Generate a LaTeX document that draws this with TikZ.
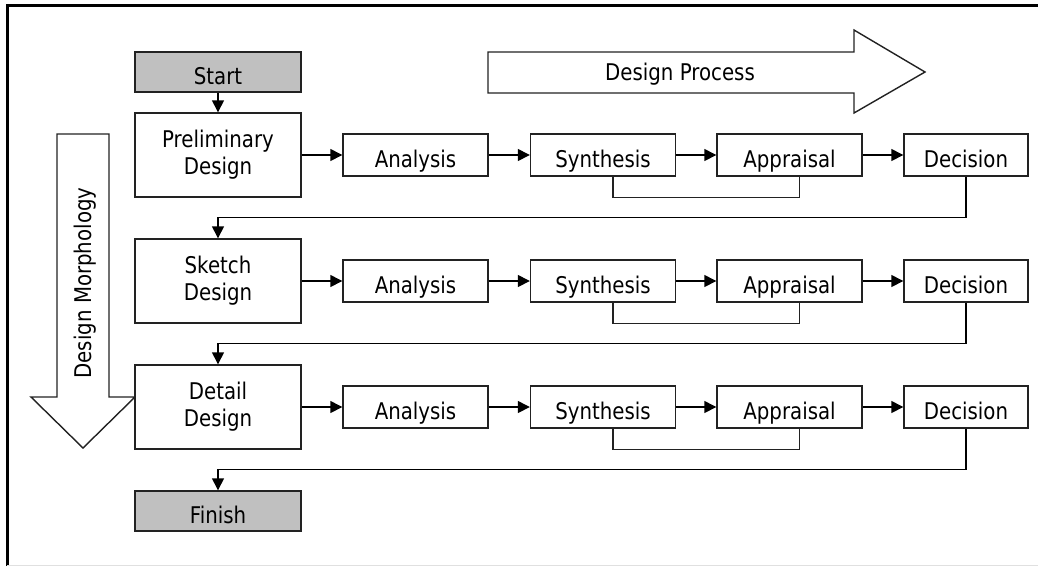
\documentclass[tikz,border=0pt]{standalone}
\usepackage{fontspec}
\setmainfont{DejaVu Sans}[FakeStretch=0.86]
\usetikzlibrary{arrows.meta}
\definecolor{boxgray}{HTML}{C0C0C0}
\definecolor{linec}{HTML}{222222}
\tikzset{
  box/.style={draw=linec, line width=1.4pt, fill=white, inner sep=0pt, align=center,
    font=\fontsize{23}{27}\selectfont, text=black},
  oneline/.style={text height=24pt, text depth=0pt},
  bigbox/.style={box, minimum width=166pt, minimum height=84pt},
  termbox/.style={box, oneline, fill=boxgray, minimum width=166pt, minimum height=40pt},
  stepbox/.style={box, oneline, minimum width=145pt, minimum height=42pt},
  decbox/.style={box, oneline, minimum width=124pt, minimum height=42pt},
  flow/.style={draw=black, line width=1.4pt, -{Triangle[length=12pt,width=12pt]}},
  loopline/.style={draw=linec, line width=1.4pt},
  fat/.style={draw=linec, line width=1.4pt, fill=white, line join=miter},
  lbl/.style={font=\fontsize{23}{26}\selectfont, inner sep=0pt}
}
\begin{document}
\begin{tikzpicture}[x=1pt, y=-1pt]
\useasboundingbox (0,0) rectangle (1038,566);
% frame
\draw[line width=3pt, black] (7,566) -- (7,5) -- (1038,5);
\draw[line width=1pt, black!12] (7,565) -- (1038,565);

% big arrows
\draw[fat] (488,52) -- (854,52) -- (854,30) -- (925,72) -- (854,113) -- (854,93) -- (488,93) -- cycle;
\node[lbl] (dp) at (680,74) {Design Process};
\draw[fat] (57,134) -- (109,134) -- (109,397) -- (135,397) -- (83,448) -- (31,397) -- (57,397) -- cycle;
\node[lbl, rotate=90] (dm) at (85,283) {Design Morphology};

% left column
\node[termbox] (start) at (218,72) {Start};
\node[bigbox] (pre) at (218,155) {Preliminary\\Design};
\node[bigbox] (ske) at (218,281) {Sketch\\Design};
\node[bigbox] (det) at (218,407) {Detail\\Design};
\node[termbox] (fin) at (218,511) {Finish};

% rows
\foreach \r/\y in {1/155, 2/281, 3/407} {
  \node[stepbox] (an\r) at (415.5,\y) {Analysis};
  \node[stepbox] (sy\r) at (603,\y) {Synthesis};
  \node[stepbox] (ap\r) at (789.5,\y) {Appraisal};
  \node[decbox]  (de\r) at (966,\y) {Decision};
  \draw[flow] (an\r.east) -- (sy\r.west);
  \draw[flow] (sy\r.east) -- (ap\r.west);
  \draw[flow] (ap\r.east) -- (de\r.west);
  \draw[loopline] ([xshift=10pt]sy\r.south) -- ++(0,21) -| ([xshift=10pt]ap\r.south);
}
\draw[flow] (start.south) -- (pre.north);
\draw[flow] (pre.east) -- (an1.west);
\draw[flow] (ske.east) -- (an2.west);
\draw[flow] (det.east) -- (an3.west);
\draw[flow] (de1.south) -- ++(0,41) -| (ske.north);
\draw[flow] (de2.south) -- ++(0,41) -| (det.north);
\draw[flow] (de3.south) -- ++(0,41) -| (fin.north);
\end{tikzpicture}
\end{document}
